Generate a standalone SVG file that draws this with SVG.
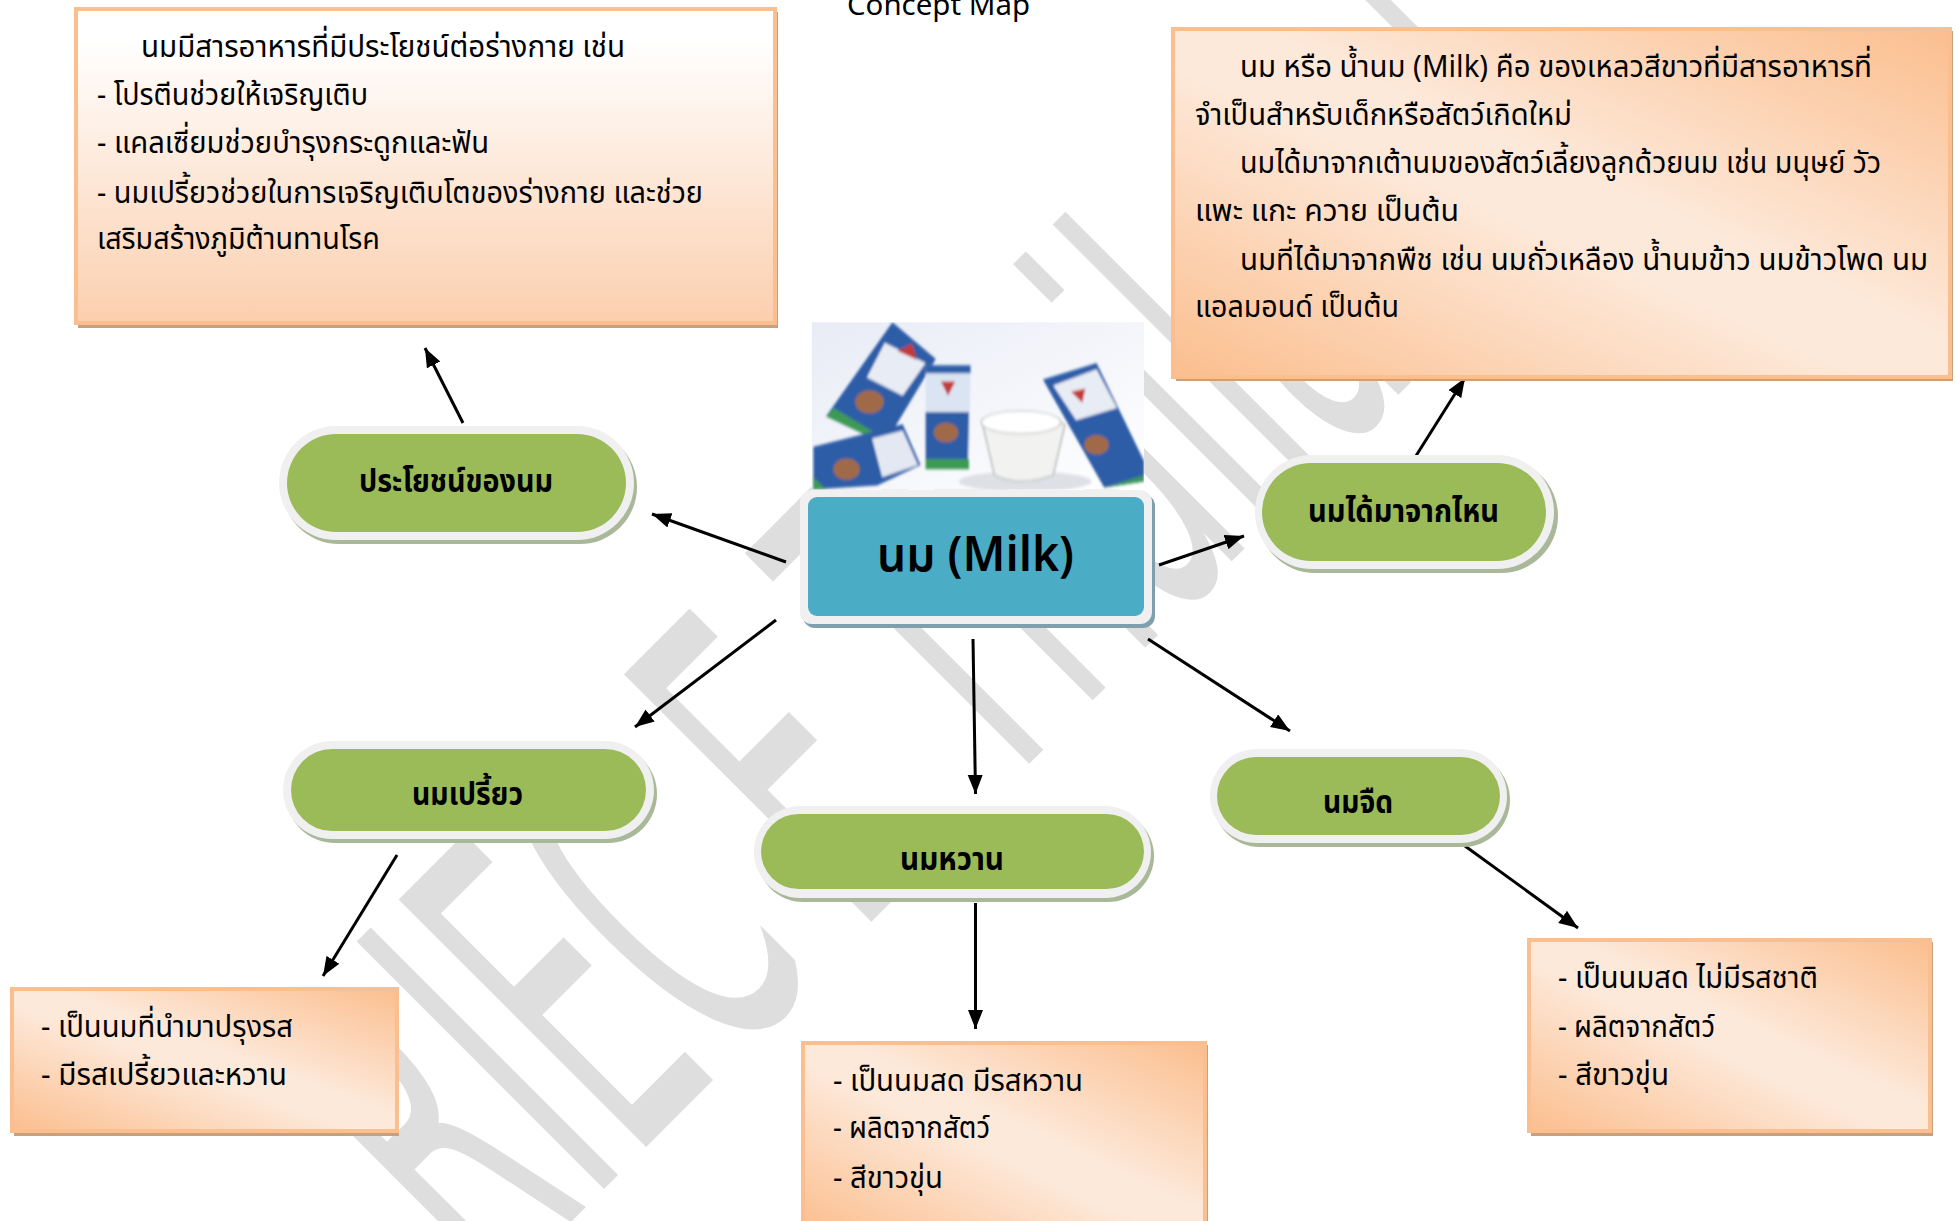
<svg xmlns="http://www.w3.org/2000/svg" width="1956" height="1221" viewBox="0 0 1956 1221">
<style>
text{font-family:"Noto Sans Thai","Noto Sans","Liberation Sans",sans-serif;fill:#000}
.b{font-size:31px}
.l{font-size:31px;font-weight:700}
.sh{fill:#c9a07c}
.psh{fill:#a9b898}
.pout{fill:#f0f0f0}
.pin{fill:#9bbb59}
.bx{stroke:#fbbf8f;stroke-width:4}
.c{stroke:#000;stroke-width:3;fill:none;marker-end:url(#a)}
.wm{font-family:"DejaVu Sans",sans-serif;font-size:480px;fill:#dedede}
</style>
<defs>
<marker id="a" markerUnits="userSpaceOnUse" markerWidth="20" markerHeight="16" refX="19" refY="7.5" orient="auto"><path d="M0 0L19 7.5L0 15z" fill="#000"/></marker>
<linearGradient id="v" x1="0" y1="0" x2="0" y2="1"><stop offset="0.1" stop-color="#fff"/><stop offset="1" stop-color="#fbcfae"/></linearGradient>
<linearGradient id="d" x1="0" y1="1" x2="1" y2="0"><stop offset="0" stop-color="#fbbe8e"/><stop offset=".45" stop-color="#fde9da"/><stop offset=".55" stop-color="#fde9da"/><stop offset="1" stop-color="#fbbe8e"/></linearGradient>
<linearGradient id="ph" x1="0" y1="0" x2="1" y2="1"><stop offset="0" stop-color="#e9ecf6"/><stop offset="1" stop-color="#fff"/></linearGradient>
<filter id="bl" x="-5%" y="-5%" width="110%" height="110%"><feGaussianBlur stdDeviation="2.500 4"/></filter>
<clipPath id="pc"><rect x="82" y="790" width="651" height="410"/></clipPath>
</defs>
<rect width="1956" height="1221" fill="#fff"/>
<text class="wm" transform="translate(491,1302) rotate(-45) scale(.42,1)">RIEC<tspan dx="120">E</tspan> Thailand</text>
<text id="title" x="847" y="15" style="font-size:29px" textLength="183" lengthAdjust="spacingAndGlyphs">Concept Map</text>

<g id="photo" transform="translate(770,0) scale(.5102,.408)">
<rect x="82" y="790" width="651" height="410" fill="url(#ph)"/>
<g clip-path="url(#pc)"><g filter="url(#bl)">
<ellipse cx="500" cy="1180" rx="130" ry="25" fill="#dfe0e6"/>
<path d="M240 790L325 880L225 1088L110 1020z" fill="#2f5da8"/><path d="M225 840L305 890L260 970L190 925z" fill="#e8ecf4"/><path d="M110 1020L225 1088L205 1060L125 1000z" fill="#3d9a55"/><circle cx="195" cy="985" r="28" fill="#a06a48"/><path d="M250 860l28 -18l10 40z" fill="#c23a3a"/>
<path d="M305 895L393 900L390 1150L305 1150z" fill="#dbe4f3"/><path d="M305 1010L390 1010L388 1125L305 1125z" fill="#2f5da8"/><circle cx="345" cy="1060" r="24" fill="#a06a48"/><path d="M305 1125h85v25h-85z" fill="#3d9a55"/><path d="M335 935h28l-14 35z" fill="#c23a3a"/><path d="M305 895h88v20h-88z" fill="#2f5da8"/>
<path d="M85 1095L260 1040L295 1140L210 1190L85 1200z" fill="#2f5da8"/><path d="M200 1075L260 1055L290 1140L220 1170z" fill="#e3e8f2"/><circle cx="150" cy="1150" r="26" fill="#a06a48"/><path d="M85 1170L110 1200H85z" fill="#3d9a55"/>
<path d="M415 1030Q490 990 578 1040L555 1165Q490 1195 440 1165z" fill="#f2f2f0" stroke="#c5c8c8" stroke-width="4"/><ellipse cx="492" cy="1035" rx="78" ry="28" fill="#fff" stroke="#c5c8c8" stroke-width="3"/>
<path d="M535 930L640 890L733 1130L733 1180L655 1195z" fill="#2f5da8"/><path d="M555 945L640 905L680 1000L600 1030z" fill="#e8ecf4"/><circle cx="640" cy="1090" r="24" fill="#a06a48"/><path d="M655 1195L733 1165V1180z" fill="#3d9a55"/><path d="M590 960l28 -8l-6 35z" fill="#c23a3a"/>
</g></g>
</g>

<g id="connectors">
<line class="c" x1="463" y1="423" x2="425" y2="348"/>
<line class="c" x1="786" y1="562" x2="652" y2="514"/>
<line class="c" x1="1159" y1="565" x2="1244" y2="536"/>
<line class="c" x1="1414" y1="459" x2="1465" y2="378"/>
<line class="c" x1="776" y1="620" x2="635" y2="727"/>
<line class="c" x1="973" y1="639" x2="975.500" y2="794"/>
<line class="c" x1="1148" y1="639" x2="1290" y2="731"/>
<line class="c" x1="397" y1="855" x2="323" y2="976"/>
<line class="c" x1="975.500" y1="903" x2="975.500" y2="1029"/>
<line class="c" x1="1465" y1="846" x2="1578" y2="928"/>
</g>

<g id="box-benefits">
<rect class="sh" x="78" y="12" width="700" height="316"/>
<rect class="bx" x="76" y="9" width="699" height="314" fill="url(#v)"/>
<text class="b" x="141" y="57" textLength="484" lengthAdjust="spacingAndGlyphs">นมมีสารอาหารที่มีประโยชน์ต่อร่างกาย เช่น</text>
<text class="b" x="97" y="105" textLength="271" lengthAdjust="spacingAndGlyphs">- โปรตีนช่วยให้เจริญเติบ</text>
<text class="b" x="97" y="153" textLength="392" lengthAdjust="spacingAndGlyphs">- แคลเซี่ยมช่วยบำรุงกระดูกและฟัน</text>
<text class="b" x="97" y="203" textLength="606" lengthAdjust="spacingAndGlyphs">- นมเปรี้ยวช่วยในการเจริญเติบโตของร่างกาย และช่วย</text>
<text class="b" x="97" y="249" textLength="283" lengthAdjust="spacingAndGlyphs">เสริมสร้างภูมิต้านทานโรค</text>
</g>

<g id="box-what">
<rect class="sh" x="1176" y="31" width="777" height="350"/>
<rect class="bx" x="1173" y="29" width="777" height="348" fill="url(#d)"/>
<text class="b" x="1240" y="77" textLength="632" lengthAdjust="spacingAndGlyphs">นม หรือ น้ำนม (Milk) คือ ของเหลวสีขาวที่มีสารอาหารที่</text>
<text class="b" x="1195" y="125" textLength="377" lengthAdjust="spacingAndGlyphs">จำเป็นสำหรับเด็กหรือสัตว์เกิดใหม่</text>
<text class="b" x="1240" y="173" textLength="641" lengthAdjust="spacingAndGlyphs">นมได้มาจากเต้านมของสัตว์เลี้ยงลูกด้วยนม เช่น มนุษย์ วัว</text>
<text class="b" x="1195" y="221" textLength="264" lengthAdjust="spacingAndGlyphs">แพะ แกะ ควาย เป็นต้น</text>
<text class="b" x="1240" y="270" textLength="688" lengthAdjust="spacingAndGlyphs">นมที่ได้มาจากพืช เช่น นมถั่วเหลือง น้ำนมข้าว นมข้าวโพด นม</text>
<text class="b" x="1195" y="317" textLength="204" lengthAdjust="spacingAndGlyphs">แอลมอนด์ เป็นต้น</text>
</g>

<g id="box-sour">
<rect class="sh" x="14" y="992" width="385" height="144"/>
<rect class="bx" x="12" y="989" width="385" height="142" fill="url(#d)"/>
<text class="b" x="41" y="1037" textLength="252" lengthAdjust="spacingAndGlyphs">- เป็นนมที่นำมาปรุงรส</text>
<text class="b" x="41" y="1085" textLength="246" lengthAdjust="spacingAndGlyphs">- มีรสเปรี้ยวและหวาน</text>
</g>

<g id="box-sweet">
<rect class="sh" x="805" y="1045" width="403" height="190"/>
<rect class="bx" x="803" y="1043" width="402" height="190" fill="url(#d)"/>
<text class="b" x="833" y="1091" textLength="250" lengthAdjust="spacingAndGlyphs">- เป็นนมสด มีรสหวาน</text>
<text class="b" x="833" y="1138" textLength="157" lengthAdjust="spacingAndGlyphs">- ผลิตจากสัตว์</text>
<text class="b" x="833" y="1188" textLength="110" lengthAdjust="spacingAndGlyphs">- สีขาวขุ่น</text>
</g>

<g id="box-plain">
<rect class="sh" x="1531" y="942" width="402" height="194"/>
<rect class="bx" x="1529" y="940" width="401" height="191" fill="url(#d)"/>
<text class="b" x="1558" y="988" textLength="260" lengthAdjust="spacingAndGlyphs">- เป็นนมสด ไม่มีรสชาติ</text>
<text class="b" x="1558" y="1037" textLength="157" lengthAdjust="spacingAndGlyphs">- ผลิตจากสัตว์</text>
<text class="b" x="1558" y="1085" textLength="111" lengthAdjust="spacingAndGlyphs">- สีขาวขุ่น</text>
</g>

<g id="node-benefits">
<rect class="psh" x="282" y="430" width="355" height="114" rx="57"/>
<rect class="pout" x="279" y="426" width="355" height="114" rx="57"/>
<rect class="pin" x="287" y="434" width="339" height="98" rx="49"/>
<text class="l" x="359" y="492" textLength="194" lengthAdjust="spacingAndGlyphs">ประโยชน์ของนม</text>
</g>
<g id="node-source">
<rect class="psh" x="1258" y="459" width="300" height="114" rx="57"/>
<rect class="pout" x="1255" y="455" width="299" height="114" rx="57"/>
<rect class="pin" x="1262" y="463" width="284" height="98" rx="49"/>
<text class="l" x="1308" y="522" textLength="191" lengthAdjust="spacingAndGlyphs">นมได้มาจากไหน</text>
</g>
<g id="node-sour">
<rect class="psh" x="286" y="745" width="371" height="98" rx="49"/>
<rect class="pout" x="283" y="741" width="371" height="98" rx="49"/>
<rect class="pin" x="291" y="749" width="355" height="82" rx="41"/>
<text class="l" x="412" y="805" textLength="111" lengthAdjust="spacingAndGlyphs">นมเปรี้ยว</text>
</g>
<g id="node-sweet">
<rect class="psh" x="757" y="810" width="397" height="92" rx="46"/>
<rect class="pout" x="754" y="806" width="397" height="92" rx="46"/>
<rect class="pin" x="761" y="814" width="383" height="75" rx="37.500"/>
<text class="l" x="900" y="870" textLength="104" lengthAdjust="spacingAndGlyphs">นมหวาน</text>
</g>
<g id="node-plain">
<rect class="psh" x="1213" y="753" width="297" height="94" rx="47"/>
<rect class="pout" x="1210" y="749" width="297" height="94" rx="47"/>
<rect class="pin" x="1217" y="757" width="283" height="78" rx="39"/>
<text class="l" x="1323" y="813" textLength="70" lengthAdjust="spacingAndGlyphs">นมจืด</text>
</g>
<g id="node-milk">
<rect x="803" y="494" width="352" height="134" rx="12" fill="#7f9fae"/>
<rect class="pout" x="800" y="490" width="352" height="134" rx="12"/>
<rect x="808" y="497" width="336" height="119" rx="9" fill="#4bacc6"/>
<text x="877" y="571" style="font-size:48px;font-weight:600" textLength="197" lengthAdjust="spacingAndGlyphs">นม (Milk)</text>
</g>
</svg>
